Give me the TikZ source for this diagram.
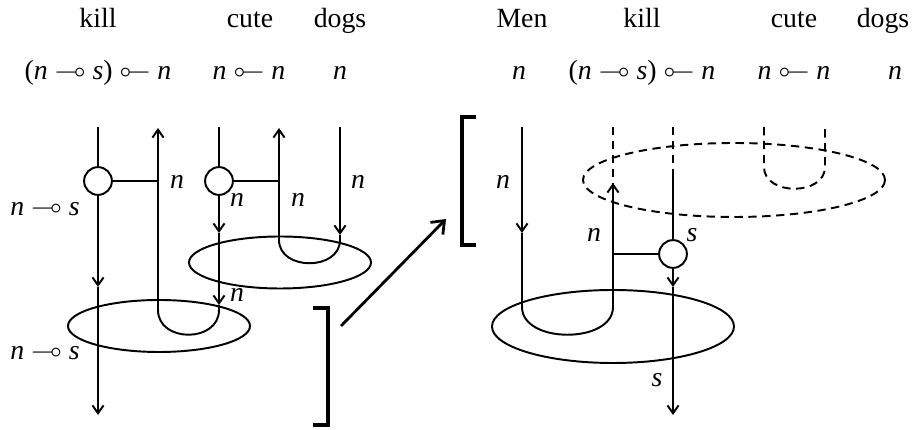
\documentclass[tikz,border=0pt]{standalone}
\usepackage{fontspec}
\setmainfont{Liberation Serif}
\usepackage{amssymb}
\usepackage{graphicx}
\usetikzlibrary{arrows.meta}
\newcommand{\lolli}{$\multimap$}
\newcommand{\illol}{\reflectbox{$\multimap$}}
\newcommand{\tyn}{\textit{n}}
\newcommand{\tys}{\textit{s}}

\begin{document}
\begin{tikzpicture}[x=0.36pt,y=-0.36pt,
    wire/.style={line width=0.7pt},
    dwire/.style={wire, dash pattern=on 3pt off 2pt},
    gate/.style={circle, draw, line width=0.7pt, minimum size=10pt, inner sep=0pt},
    lab/.style={inner sep=1pt},
    brk/.style={line width=1.3pt},
    >={Straight Barb[length=1mm,width=1.4mm]}]
  \useasboundingbox (0,0) rectangle (917,430);

  % words and their types
  \node[anchor=base] (wkill) at (98,28) {kill};
  \node[anchor=base] (wcute) at (250,28) {cute};
  \node[anchor=base] (wdogs) at (340,28) {dogs};
  \node[anchor=base] (tkill) at (98,80) {(\tyn\ \lolli\ \tys) \illol\ \tyn};
  \node[anchor=base] (tcute) at (249,80) {\tyn\ \illol\ \tyn};
  \node[anchor=base] (tdogs) at (340,80) {\tyn};
  \node[anchor=base] (wmen2) at (522,28) {Men};
  \node[anchor=base] (wkill2) at (642,28) {kill};
  \node[anchor=base] (wcute2) at (794,28) {cute};
  \node[anchor=base] (wdogs2) at (883,28) {dogs};
  \node[anchor=base] (tmen2) at (519,80) {\tyn};
  \node[anchor=base] (tkill2) at (642,80) {(\tyn\ \lolli\ \tys) \illol\ \tyn};
  \node[anchor=base] (tcute2) at (794,80) {\tyn\ \illol\ \tyn};
  \node[anchor=base] (tdogs2) at (895,80) {\tyn};

  % left diagram
  \node[gate] (gk) at (98,181) {};
  \node[gate] (gc) at (219,181) {};
  \coordinate (a0) at (98,127);
  \coordinate (a1) at (98,287);
  \coordinate (a2) at (98,415);
  \coordinate (b0) at (158,128);
  \coordinate (b1) at (158,181);
  \coordinate (b2) at (158,310);
  \coordinate (c0) at (219,127);
  \coordinate (c1) at (219,233);
  \coordinate (c2) at (219,305);
  \coordinate (c3) at (219,310);
  \coordinate (d0) at (279,128);
  \coordinate (d1) at (279,181);
  \coordinate (d2) at (279,240);
  \coordinate (e0) at (340,127);
  \coordinate (e1) at (340,235);
  \coordinate (e2) at (340,240);
  \draw[wire] (a0) -- (gk.north);
  \draw[wire,->] (gk.south) -- (a1);
  \draw[wire,->] (a1) -- (a2);
  \draw[wire] (gk.east) -- (b1);
  \draw[wire,->] (b2) -- (b0);
  \draw[wire] (c0) -- (gc.north);
  \draw[wire,->] (gc.south) -- (c1);
  \draw[wire,->] (c1) -- (c2);
  \draw[wire] (c2) -- (c3) .. controls +(0,33) and +(0,33) .. (b2);
  \draw[wire] (gc.east) -- (d1);
  \draw[wire,->] (d2) -- (d0);
  \draw[wire,->] (e0) -- (e1);
  \draw[wire] (e1) -- (e2) .. controls +(0,31) and +(0,31) .. (d2);
  \draw[wire] (280,262.5) ellipse [x radius=91, y radius=26];
  \draw[wire] (159,326) ellipse [x radius=91, y radius=26];
  \node (lk1) at (45,208) {\tyn\ \lolli\ \tys};
  \node (lk2) at (45,352) {\tyn\ \lolli\ \tys};
  \node[lab] (lb) at (177,182) {\tyn};
  \node[lab] (lc) at (237,200) {\tyn};
  \node[lab] (ld) at (298,200) {\tyn};
  \node[lab] (le) at (358,182) {\tyn};
  \node[lab] (lc2) at (237,295) {\tyn};

  % brackets and the step between them
  \coordinate (brL) at (341,326);
  \coordinate (brR) at (446,219);
  \draw[brk] (313,308) -- (328,308) -- (328,425) -- (313,425);
  \draw[brk] (476,117) -- (462,117) -- (462,245) -- (476,245);
  \draw[line width=1pt,-{Straight Barb[length=1.4mm,width=2.2mm]}] (brL) -- (brR);

  % right diagram
  \node[gate] (gr) at (673,254) {};
  \coordinate (f0) at (522,127);
  \coordinate (f1) at (522,233);
  \coordinate (f2) at (522,307);
  \coordinate (g0) at (613,127);
  \coordinate (g1) at (613,183);
  \coordinate (gh) at (613,254);
  \coordinate (g2) at (613,307);
  \coordinate (h0) at (673,127);
  \coordinate (h1) at (673,177);
  \coordinate (h2) at (673,287);
  \coordinate (h3) at (673,415);
  \coordinate (i0) at (764,127);
  \coordinate (i1) at (764,167);
  \coordinate (j0) at (825,127);
  \coordinate (j1) at (825,167);
  \draw[wire,->] (f0) -- (f1);
  \draw[wire] (f1) -- (f2) .. controls +(0,37) and +(0,37) .. (g2);
  \draw[dwire] (g0) -- (g1);
  \draw[wire,->] (g2) -- (g1);
  \draw[wire] (gh) -- (gr.west);
  \draw[dwire] (h0) -- (h1);
  \draw[wire] (h1) -- (gr.north);
  \draw[wire,->] (gr.south) -- (h2);
  \draw[wire,->] (h2) -- (h3);
  \draw[dwire] (i0) -- (i1) .. controls +(0,29) and +(0,29) .. (j1) -- (j0);
  \draw[dwire] (734,180) ellipse [x radius=151, y radius=37];
  \draw[wire] (613,326.5) ellipse [x radius=121, y radius=36.5];
  \node[lab] (lf) at (503,182) {\tyn};
  \node[lab] (lg) at (594,235) {\tyn};
  \node[lab] (lr) at (692,235) {\tys};
  \node[lab] (lh) at (657,380) {\tys};
\end{tikzpicture}
\end{document}
